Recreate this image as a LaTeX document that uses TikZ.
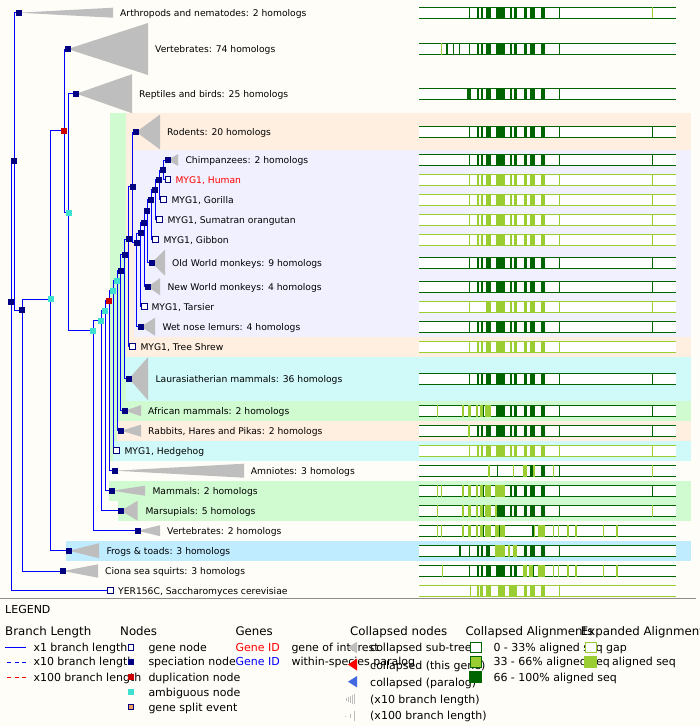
\documentclass[tikz,border=0pt]{standalone}
\usepackage{fontspec}
\setmainfont{DejaVu Sans}
\usepackage{tikz}
\usetikzlibrary{backgrounds}

\definecolor{navy}{RGB}{0,0,128}
\definecolor{dupred}{RGB}{204,0,0}
\definecolor{ambcyan}{RGB}{64,224,208}
\definecolor{trigray}{RGB}{190,190,190}
\definecolor{bgcream}{RGB}{255,253,247}
\definecolor{bandpeach}{RGB}{255,239,224}
\definecolor{bandlav}{RGB}{240,240,255}
\definecolor{bandcyan}{RGB}{208,250,250}
\definecolor{bandgreen}{RGB}{208,250,208}
\definecolor{bandblue}{RGB}{192,236,255}
\definecolor{alnD}{RGB}{0,100,0}
\definecolor{alnL}{RGB}{154,205,50}
\definecolor{royal}{RGB}{65,105,225}
\definecolor{splitorange}{RGB}{240,160,96}
\definecolor{sepgray}{RGB}{140,140,140}
\definecolor{brblue}{RGB}{0,0,255}
\definecolor{brred}{RGB}{255,0,0}

\newcommand{\treefont}{\fontsize{9.2}{11}\selectfont}
\newcommand{\legfont}{\fontsize{11}{13}\selectfont}
\newcommand{\leghdfont}{\fontsize{11.8}{14}\selectfont}

% alignment bars
\newcommand{\stdset}{469/470.2,477.3/478.5,480.7/483.3,486/490.7,496.3/504.7,510/511.7,513.7/516.7,524/526.7,530/534.7,541.3/545,559/560.2}
\newcommand{\alnbar}[2]{%
  \fill[white] (419,#1-5.6) rectangle (676,#1+5.6);
  \draw[#2, line width=1pt] (419,#1-5.6) -- (676,#1-5.6) (419,#1+5.6) -- (676,#1+5.6);}
\newcommand{\stdstripes}[2]{\foreach \xa/\xb in \stdset {\fill[#2] (\xa,#1-5.6) rectangle (\xb,#1+5.6);}}
\newcommand{\mixstripes}[2]{\foreach \xa/\xb/\cl in {#2} {\fill[\cl] (\xa,#1-5.6) rectangle (\xb,#1+5.6);}}

\begin{document}
\begin{tikzpicture}[x=1pt, y=-1pt,
    spec/.style={rectangle, fill=navy, inner sep=0, minimum size=6pt},
    dup/.style={spec, fill=dupred},
    amb/.style={spec, fill=ambcyan},
    gene/.style={rectangle, draw=navy, fill=white, line width=1pt, inner sep=0, minimum size=5.5pt},
    br/.style={brblue, line width=1pt},
    tri/.style={fill=trigray},
    lbl/.style={anchor=base west, inner sep=0, yshift=-3.3pt, font=\treefont},
    leg/.style={anchor=base west, inner sep=0, yshift=-4pt, font=\legfont},
    leghd/.style={leg, yshift=-0.3pt, font=\leghdfont}]
  \useasboundingbox (0,0) rectangle (700,726);

  \begin{scope}[on background layer]
    \fill[bgcream] (0,0) rectangle (700,726);
    \fill[bandgreen] (110,112.7) rectangle (691,460.7);
    \fill[bandpeach] (126,112.7) rectangle (691,356.7);
    \fill[bandlav] (134,149.5) rectangle (691,336.7);
    \fill[bandcyan] (126,356.7) rectangle (691,400.7);
    \fill[bandpeach] (117,420.7) rectangle (691,440.7);
    \fill[bandcyan] (112.7,440.7) rectangle (691,460.7);
    \fill[bandgreen] (109,480.7) rectangle (691,500.7);
    \fill[bandgreen] (118,500.7) rectangle (691,520.7);
    \fill[bandblue] (66,540.7) rectangle (691,560.7);
  \end{scope}

  % tree nodes
  \node[spec] (r0) at (11,302) {};
  \node[spec] (n1) at (14.3,161) {};
  \node[spec] (arth) at (18.7,12.7) {};
  \node[spec] (n2) at (22,310) {};
  \node[spec] (ciona) at (63,571) {};
  \node[amb] (n3) at (50.7,299) {};
  \node[spec] (frog) at (69,550.7) {};
  \node[dup] (n4) at (64,130.7) {};
  \node[spec] (vert74) at (67.7,49) {};
  \node[amb] (n5) at (68.7,212.7) {};
  \node[spec] (rept) at (76.3,93.7) {};
  \node[amb] (n6) at (93,330.7) {};
  \node[spec] (vert2) at (137.7,530.7) {};
  \node[amb] (n7) at (101,320.7) {};
  \node[spec] (mars) at (121,510.7) {};
  \node[amb] (n8) at (105,310.7) {};
  \node[spec] (mamm) at (112,490.7) {};
  \node[dup] (n9) at (109,300.7) {};
  \node[spec] (amni) at (115,470.7) {};
  \node[amb] (n10) at (113,290.7) {};
  \node[gene] (hedge) at (116.7,450.7) {};
  \node[amb] (n11) at (117,280.7) {};
  \node[spec] (rabb) at (121,430.7) {};
  \node[spec] (n12) at (120.7,270.7) {};
  \node[spec] (afri) at (125,410.7) {};
  \node[spec] (n13) at (124.7,254.7) {};
  \node[spec] (laur) at (129,378.7) {};
  \node[spec] (n14) at (128.7,239) {};
  \node[gene] (shrew) at (132.7,346.7) {};
  \node[spec] (n15) at (132.7,186.7) {};
  \node[spec] (rod) at (136.3,132) {};
  \node[spec] (n16) at (136.7,242.7) {};
  \node[spec] (lemur) at (141,326.7) {};
  \node[spec] (n17) at (140.7,233) {};
  \node[gene] (tars) at (144.3,306.7) {};
  \node[spec] (n18) at (144,222.7) {};
  \node[spec] (nwm) at (147.7,286.7) {};
  \node[spec] (n19) at (147.3,211) {};
  \node[spec] (owm) at (151.7,262.7) {};
  \node[spec] (n20) at (151.3,199.7) {};
  \node[gene] (gibb) at (155.7,239.3) {};
  \node[spec] (n21) at (155.3,189.7) {};
  \node[gene] (suma) at (159.3,219.3) {};
  \node[spec] (n22) at (159.3,179.7) {};
  \node[gene] (gori) at (163.7,199.3) {};
  \node[spec] (n23) at (163.3,170) {};
  \node[spec] (chimp) at (167.7,160) {};
  \node[gene] (human) at (168,179.3) {};
  \node[gene] (yer) at (110.7,590.7) {};

  \begin{scope}[on background layer]
    \foreach \p/\c in {r0/n1, r0/yer, n1/arth, n1/n2, n2/n3, n2/ciona, n3/n4, n3/frog,
        n4/vert74, n4/n5, n5/rept, n5/n6, n6/n7, n6/vert2, n7/n8, n7/mars, n8/n9, n8/mamm,
        n9/n10, n9/amni, n10/n11, n10/hedge, n11/n12, n11/rabb, n12/n13, n12/afri,
        n13/n14, n13/laur, n14/n15, n14/shrew, n15/rod, n15/n16, n16/n17, n16/lemur,
        n17/n18, n17/tars, n18/n19, n18/nwm, n19/n20, n19/owm, n20/n21, n20/gibb,
        n21/n22, n21/suma, n22/n23, n22/gori, n23/chimp, n23/human}
      \draw[br] (\p.center) |- (\c.center);
    % collapsed sub-trees
    \foreach \n/\dx/\h in {arth/94.3/5, vert74/80.3/26, rept/55.7/19.5, rod/23.7/17.5,
        chimp/10.3/6, owm/13.3/13, nwm/12.3/8.5, lemur/14/9, laur/19/21.5, afri/16/5.5,
        rabb/20/6, amni/129/7, mamm/33/5, mars/16.7/10, vert2/22.3/5.5, frog/30/7.5, ciona/35/6.7}
      \fill[tri] (\n.center) -- ++(\dx,-\h) -- ++(0,2*\h) -- cycle;
  \end{scope}

  % labels
  \node[lbl] (t_arth) at (120,12.7) {Arthropods and nematodes: 2 homologs};
  \node[lbl] (t_vert74) at (155,49) {Vertebrates: 74 homologs};
  \node[lbl] (t_rept) at (139,93.7) {Reptiles and birds: 25 homologs};
  \node[lbl] (t_rod) at (167,132) {Rodents: 20 homologs};
  \node[lbl] (t_chimp) at (185.3,160) {Chimpanzees: 2 homologs};
  \node[lbl, text=red] (t_human) at (175.3,180) {MYG1, Human};
  \node[lbl] (t_gori) at (171.3,200) {MYG1, Gorilla};
  \node[lbl] (t_suma) at (167.3,220) {MYG1, Sumatran orangutan};
  \node[lbl] (t_gibb) at (163.3,240) {MYG1, Gibbon};
  \node[lbl] (t_owm) at (172,263) {Old World monkeys: 9 homologs};
  \node[lbl] (t_nwm) at (167.3,287) {New World monkeys: 4 homologs};
  \node[lbl] (t_tars) at (151.3,307) {MYG1, Tarsier};
  \node[lbl] (t_lemur) at (162.3,327) {Wet nose lemurs: 4 homologs};
  \node[lbl] (t_shrew) at (140.3,347) {MYG1, Tree Shrew};
  \node[lbl] (t_laur) at (155.3,379) {Laurasiatherian mammals: 36 homologs};
  \node[lbl] (t_afri) at (148,411) {African mammals: 2 homologs};
  \node[lbl] (t_rabb) at (148,431) {Rabbits, Hares and Pikas: 2 homologs};
  \node[lbl] (t_hedge) at (124.3,451) {MYG1, Hedgehog};
  \node[lbl] (t_amni) at (250.7,471) {Amniotes: 3 homologs};
  \node[lbl] (t_mamm) at (152.3,491) {Mammals: 2 homologs};
  \node[lbl] (t_mars) at (145.3,511) {Marsupials: 5 homologs};
  \node[lbl] (t_vert2) at (167,531) {Vertebrates: 2 homologs};
  \node[lbl] (t_frog) at (106.3,551) {Frogs \& toads: 3 homologs};
  \node[lbl] (t_ciona) at (105,571) {Ciona sea squirts: 3 homologs};
  \node[lbl] (t_yer) at (118,591) {YER156C, Saccharomyces cerevisiae};

  % alignments
  \alnbar{12.7}{alnD} \stdstripes{12.7}{alnD} \mixstripes{12.7}{652/653.2/alnL}
  \alnbar{49}{alnD} \stdstripes{49}{alnD} \mixstripes{49}{441/442.2/alnL, 446.3/447.5/alnD, 453/454.2/alnD, 459/460.2/alnD}
  \alnbar{93.7}{alnD} \stdstripes{93.7}{alnD} \mixstripes{93.7}{467/471.3/alnD}
  \foreach \yy in {132,160,263,287,327,379} {\alnbar{\yy}{alnD} \stdstripes{\yy}{alnD} \mixstripes{\yy}{652/653.2/alnD}}
  \foreach \yy in {180,200,220,240,451} {\alnbar{\yy}{alnL} \stdstripes{\yy}{alnL} \mixstripes{\yy}{652/653.2/alnL}}
  \alnbar{307}{alnL} \mixstripes{307}{469/470.2/alnL, 486/490.7/alnL, 496.3/504.7/alnL, 510/511.7/alnL, 513.7/516.7/alnL, 524/526.7/alnL, 530/534.7/alnL, 541.3/545/alnL, 559/560.2/alnL, 652/653.2/alnL}
  \alnbar{347}{alnL} \stdstripes{347}{alnL}
  \alnbar{411}{alnD} \mixstripes{411}{437/438.2/alnL, 462.3/463.5/alnL, 468/470.7/alnL, 476/477.7/alnL, 480/482.7/alnL, 483/484.2/alnD, 485/490.7/alnL, 496.3/504.7/alnD, 510/511.7/alnD, 513.7/516.7/alnD, 524/526.7/alnD, 530/534.7/alnD, 541.3/545/alnD, 559/560.2/alnD, 652/653.2/alnD}
  \alnbar{431}{alnD} \stdstripes{431}{alnD} \mixstripes{431}{467.8/469.6/alnL, 652/653.2/alnD}
  \alnbar{471}{alnD} \mixstripes{471}{488/490/alnL, 497/498.2/alnD, 513/514.2/alnL, 523/526.7/alnL, 530/532.7/alnD, 532.7/534.7/alnL, 541.3/545/alnD, 553/554.2/alnL, 559/560.2/alnD, 652/653.2/alnL}
  \alnbar{491}{alnD} \mixstripes{491}{437/438.2/alnL, 440.5/441.7/alnL, 462.3/463.5/alnL, 468/470.7/alnL, 476/477.7/alnL, 480/482.7/alnL, 483/484.2/alnD, 485/490.7/alnL, 495/498.7/alnL, 499/504.7/alnL, 510/511.7/alnD, 513.7/516.7/alnD, 524/526.7/alnD, 530/534.7/alnD, 541.3/545/alnD, 559/560.2/alnD, 652/653.2/alnD}
  \alnbar{511}{alnD} \mixstripes{511}{437/438.2/alnL, 462.3/463.5/alnL, 468/470.7/alnL, 476/477.7/alnL, 480/482.7/alnL, 483/484.2/alnD, 485/490.7/alnL, 495/496.7/alnL, 496.7/504.7/alnD, 510/511.7/alnD, 513.7/516.7/alnD, 524/526.7/alnD, 530/534.7/alnD, 541.3/545/alnD, 559/560.2/alnD, 652/653.2/alnL}
  \alnbar{531}{alnD} \mixstripes{531}{437/438.2/alnL, 440.5/441.7/alnL, 462.3/463.5/alnL, 468/470.7/alnL, 476/477.7/alnL, 480/482.7/alnL, 483/484.2/alnD, 485/490.7/alnL, 495/498.7/alnL, 499/500/alnD, 500/504.7/alnL, 532.3/533.5/alnD, 533.5/534.7/alnL, 538.3/545/alnL, 553/554.2/alnL, 558/559.2/alnL, 567.3/568.5/alnL, 575.3/576.5/alnL, 603/604.2/alnL, 616.3/617.5/alnL}
  \alnbar{551}{alnD} \mixstripes{551}{459.3/460.7/alnD, 469/470.2/alnD, 477.3/478.5/alnD, 480.7/483.3/alnD, 486/490/alnD, 495/504.7/alnL, 507.7/510/alnL, 513.3/516.7/alnL, 524/526.7/alnD, 530/534.7/alnD, 541.3/545/alnD, 559/560.2/alnD}
  \alnbar{571}{alnD} \mixstripes{571}{442/443.2/alnL, 469/470.2/alnD, 477.3/478.5/alnD, 480.7/483.3/alnD, 486/490.7/alnD, 496.3/504.7/alnD, 510/511.7/alnD, 513.7/516.7/alnD, 523/526.7/alnL, 529/532.7/alnL, 532.7/533.9/alnD, 538.3/545/alnL, 553/554.2/alnL, 558/559.2/alnL, 567.3/568.5/alnL, 575.3/576.5/alnL, 603/604.2/alnL, 616.3/617.5/alnL}
  \alnbar{591}{alnL} \mixstripes{591}{470/471.2/alnL, 477.3/478.5/alnL, 480/482.7/alnL, 486/490.7/alnL, 498/504.7/alnL, 509/516.7/alnL, 524/526.7/alnL, 530/534.7/alnL, 541.3/545/alnL, 559/560.2/alnL}

  \draw[sepgray, line width=1pt] (0,598.5) -- (696,598.5);

  % legend
  \node[leg] (legtitle) at (5,609.3) {LEGEND};
  \node[leghd] (h_branch) at (5,631) {Branch Length};
  \node[leghd] (h_nodes) at (120,631) {Nodes};
  \node[leghd] (h_genes) at (235.3,631) {Genes};
  \node[leghd] (h_coll) at (350,631) {Collapsed nodes};
  \node[leghd] (h_calign) at (465.3,631) {Collapsed Alignments};
  \node[leghd] (h_ealign) at (580.7,631) {Expanded Alignments};

  \draw[brblue, line width=1.2pt] (5,647.5) -- (25.7,647.5);
  \draw[brblue, line width=1.2pt, dash pattern=on 4pt off 3.5pt] (7,662.5) -- (25.7,662.5);
  \draw[brred, line width=1.2pt, dash pattern=on 4pt off 3.5pt] (7,677.5) -- (25.7,677.5);
  \node[leg] (b1) at (33.3,647.3) {x1 branch length};
  \node[leg] (b2) at (33.3,661.7) {x10 branch length};
  \node[leg] (b3) at (33.3,677) {x100 branch length};

  \node[gene] (k_gene) at (131,647.3) {};
  \node[spec] (k_spec) at (131,661.7) {};
  \node[dup] (k_dup) at (131,677) {};
  \node[amb] (k_amb) at (131,692.3) {};
  \node[gene, fill=splitorange] (k_split) at (131,707) {};
  \node[leg] (d1) at (148.3,647.3) {gene node};
  \node[leg] (d2) at (148.3,661.7) {speciation node};
  \node[leg] (d3) at (148.3,677) {duplication node};
  \node[leg] (d4) at (148.3,692.3) {ambiguous node};
  \node[leg] (d5) at (148.3,707) {gene split event};

  \node[leg, text=red] (g1) at (235.3,647.3) {Gene ID};
  \node[leg, text=blue] (g2) at (235.3,661.7) {Gene ID};
  \node[leg] (g3) at (291.3,647.3) {gene of interest};
  \node[leg] (g4) at (291.3,661.7) {within-species paralog};

  \fill[trigray] (348,647.5) -- (357,641.7) -- (357,653.3) -- cycle;
  \fill[red] (348,664.5) -- (357,658.5) -- (357,670.5) -- cycle;
  \fill[royal] (348,681.7) -- (357,676) -- (357,687.4) -- cycle;
  \foreach \xx/\hh in {346/1.5, 348/2.5, 350/3.5, 352/4.5, 354/5} \draw[trigray, line width=0.7pt] (\xx,699-\hh) -- (\xx,699+\hh);
  \fill[trigray] (345.3,715.5) rectangle (346.2,716.4);
  \draw[trigray, line width=0.7pt] (350,713.5) -- (350,717.5) (354,710.5) -- (354,720.5);
  \node[leg] (c1) at (370,647.3) {collapsed sub-tree};
  \node[leg] (c2) at (370,665) {collapsed (this gene)};
  \node[leg] (c3) at (370,682.3) {collapsed (paralog)};
  \node[leg] (c4) at (370,699) {(x10 branch length)};
  \node[leg] (c5) at (370,715.7) {(x100 branch length)};

  \draw[alnD, line width=1pt, fill=white] (470,642.2) rectangle (481.2,652.8);
  \draw[alnD, line width=1pt, fill=alnL] (470,656.5) rectangle (481.2,667.5);
  \fill[alnD] (469.3,671) rectangle (481.7,683.3);
  \node[leg] (a1) at (493.3,647.3) {0 - 33\% aligned seq};
  \node[leg] (a2) at (493.3,661.7) {33 - 66\% aligned seq};
  \node[leg] (a3) at (493.3,677) {66 - 100\% aligned seq};

  \draw[alnL, line width=1pt, fill=white] (585,642.2) rectangle (596,652.8);
  \fill[alnL] (584.3,656) rectangle (596.7,668.3);
  \node[leg] (e1) at (606,647.3) {gap};
  \node[leg] (e2) at (612,661.7) {aligned seq};
\end{tikzpicture}
\end{document}
